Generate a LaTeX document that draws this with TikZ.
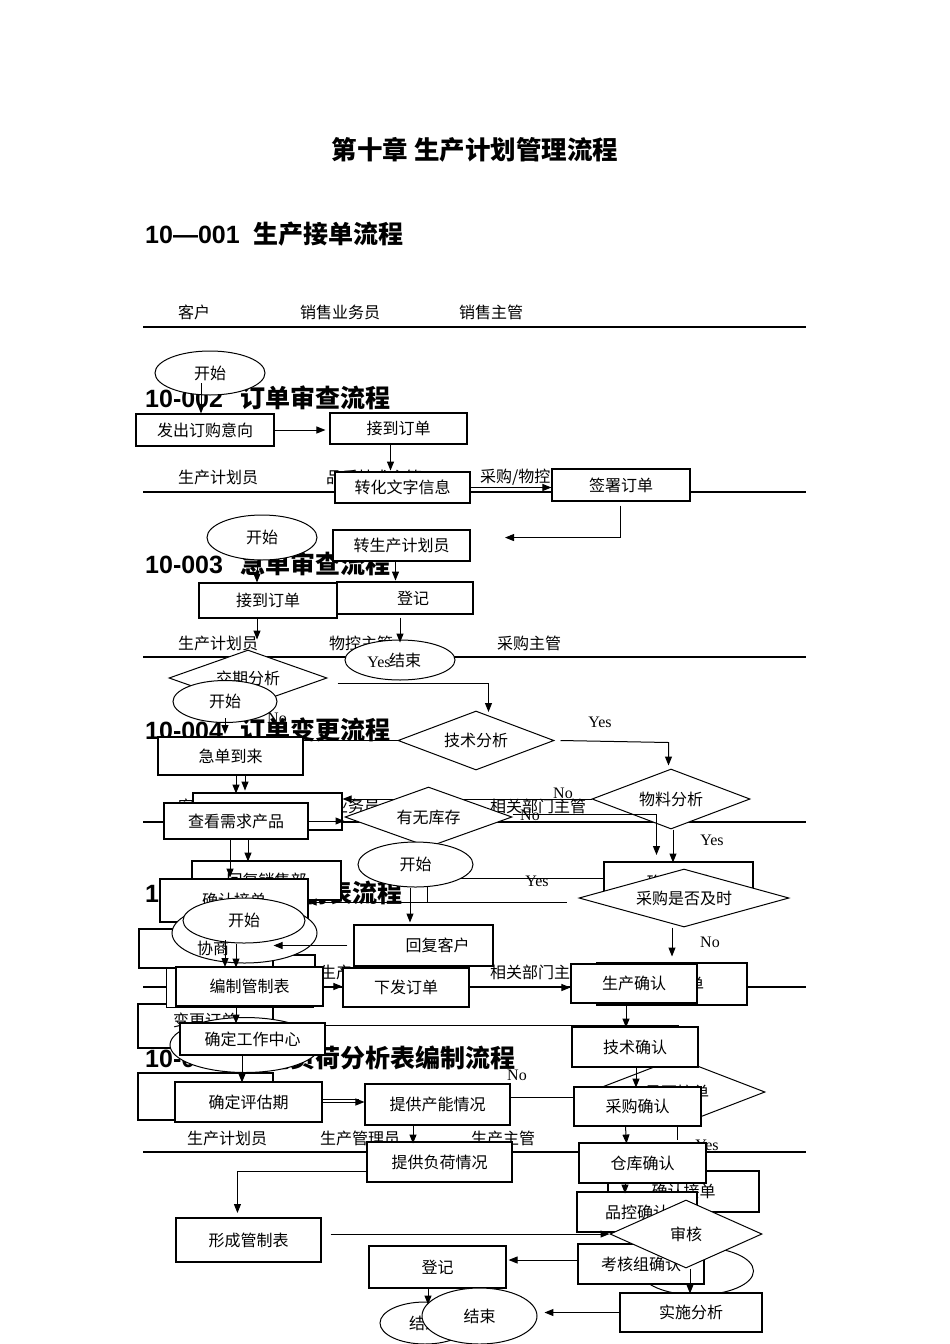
\documentclass[tikz,border=0pt]{standalone}
\usepackage{fontspec}
\setmainfont{Liberation Serif}
\newfontfamily\cjk{Noto Sans CJK SC}
\newfontfamily\arl{Liberation Sans}
\usetikzlibrary{shapes.geometric,arrows.meta}
\newcommand\bodyf{\cjk\fontsize{16}{18}\selectfont}
\newcommand\hdf{\arl\bfseries\fontsize{25}{28}\selectfont}
\begin{document}
\begin{tikzpicture}[x=1pt,y=-1pt,
  bx/.style={draw, fill=white, line width=1.1pt, inner sep=0pt, font=\bodyf},
  el/.style={ellipse, draw, fill=white, line width=1pt, inner sep=0pt, font=\bodyf},
  dm/.style={diamond, draw, fill=white, line width=1pt, inner sep=0pt, aspect=2.6, font=\bodyf},
  sz/.style 2 args={minimum width=#1pt, minimum height=#2pt},
  arr/.style={line width=1pt, -{Triangle[length=9pt,width=7pt]}},
  ln/.style={line width=1pt},
  lane/.style={line width=1.5pt},
  lbl/.style={inner sep=0pt, anchor=west, font=\bodyf},
  yn/.style={inner sep=0pt, font=\fontsize{16}{18}\selectfont},
  hd/.style={inner sep=0pt, anchor=west}]
\path[use as bounding box, fill=white] (0,0) rectangle (950,1344);

% ---------- headings, lane labels, lane lines ----------
\node[inner sep=0pt, font=\cjk\bfseries\fontsize{25.5}{28}\selectfont] (title) at (475,150) {第十章 生产计划管理流程};
\node[hd] (h1) at (145,234) {\hdf 10—001\hspace{14pt}{\cjk\bfseries 生产接单流程}};
\node[hd] (h2) at (145,398) {\hdf 10-002\hspace{17pt}{\cjk\bfseries 订单审查流程}};
\node[hd] (h3) at (145,564) {\hdf 10-003\hspace{17pt}{\cjk\bfseries 急单审查流程}};
\node[hd] (h4) at (145,730) {\hdf 10-004\hspace{17pt}{\cjk\bfseries 订单变更流程}};
\node[hd] (h5) at (145,893) {\hdf 10-005\hspace{4pt}{\cjk\bfseries 生产管制表流程}};
\node[hd] (h6) at (145,1058) {\hdf 10-006\hspace{17pt}{\cjk\bfseries 产能负荷分析表编制流程}};

\node[lbl] (l11) at (178,312) {客户};
\node[lbl] (l12) at (300,312) {销售业务员};
\node[lbl] (l13) at (459,312) {销售主管};
\node[lbl] (l21) at (178,477) {生产计划员};
\node[lbl] (l22) at (326,477) {品质技术主管};
\node[lbl] (l23) at (480,477) {采购/物控主管};
\node[lbl] (l31) at (178,643) {生产计划员};
\node[lbl] (l32) at (329,643) {物控主管};
\node[lbl] (l33) at (497,643) {采购主管};
\node[lbl] (l41) at (178,806) {客户};
\node[lbl] (l42) at (300,806) {销售业务员};
\node[lbl] (l43) at (490,806) {相关部门主管};
\node[lbl] (l51) at (178,972) {销售业务员};
\node[lbl] (l52) at (320,972) {生产计划员};
\node[lbl] (l53) at (490,972) {相关部门主管};
\node[lbl] (l61) at (187,1138) {生产计划员};
\node[lbl] (l62) at (320,1138) {生产管理员};
\node[lbl] (l63) at (471,1138) {生产主管};

\coordinate (s1) at (143,327); \coordinate (t1) at (806,327);
\coordinate (s2) at (143,492); \coordinate (t2) at (806,492);
\coordinate (s3) at (143,657); \coordinate (t3) at (806,657);
\coordinate (s4) at (143,822); \coordinate (t4) at (806,822);
\coordinate (s5) at (143,987); \coordinate (t5) at (806,987);
\coordinate (s6) at (143,1152); \coordinate (t6) at (806,1152);
\foreach \i in {1,...,6} {\draw[lane] (s\i) -- (t\i);}

% ---------- 10-001 ----------
\node[el, sz={110}{44}] (a0) at (210,373) {开始};
\node[bx, sz={138}{32}] (a1) at (205,430) {发出订购意向};
\node[bx, sz={137}{31}] (a2) at (398.5,428.5) {接到订单};
\node[bx, sz={135}{31}] (a3) at (402.5,487.5) {转化文字信息};
\node[bx, sz={138}{32}] (a4) at (621,485) {签署订单};
\node[bx, sz={137}{31}] (a5) at (401.5,545.5) {转生产计划员};
\node[bx, sz={136}{32}] (a6) at (405,598) {\hspace{16pt}登记};
\node[el, sz={110}{40}] (a7) at (400,660) {\hspace{10pt}结束};
\draw[arr] ([xshift=-9pt,yshift=-10pt]a0.center) -- ([xshift=-4pt]a1.north);
\draw[arr, shorten >=4pt] (a1.east) -- (a1.east -| a2.west);
\draw[arr] ([xshift=-8pt]a2.south) -- ++(0,26);
\draw[arr] (a3.east) -- (a3.east -| a4.west);
\draw[arr] ([xshift=-1pt,yshift=-4pt]a4.south) -- ++(0,32) -- ++(-115,0);
\draw[arr] ([xshift=-6pt]a5.south) -- ++(0,19);
\draw[arr] ([xshift=-5pt,yshift=-3pt]a6.south) -- ++(0,25);

% ---------- 10-002 ----------
\node[el, sz={110}{45}] (b0) at (262,537.5) {开始};
\node[bx, sz={138}{35}] (b1) at (268,600.5) {接到订单};
\node[dm, sz={158}{56}] (b2) at (248,678) {交期分析};
\node[dm, sz={156}{59}] (b3) at (476,740.5) {技术分析};
\node[dm, sz={158}{60}] (b4) at (671,799) {物料分析};
\node[bx, sz={149}{37}] (b5) at (267.5,811.5) {};
\node[bx, sz={149}{39}] (b6) at (266.5,880.5) {回复销售部};
\node[bx, sz={149}{40}] (b7) at (678.5,882) {确认订单};
\node[yn] (y1) at (379,662) {Yes};
\node[yn] (n1) at (277,718) {No};
\node[yn] (y2) at (600,722) {Yes};
\node[yn] (n2) at (563,793) {No};
\node[yn] (y3) at (712,840) {Yes};
\node[yn] (y4) at (537,881) {Yes};
\draw[arr] ([xshift=-5pt]b0.south) -- ++(0,22);
\draw[arr] ([xshift=-11pt]b1.south) -- ++(0,21);
\draw[arr] ([xshift=10pt,yshift=-5pt]b2.east) -- ++(151,0) -- ++(0,29);
\draw[arr] ([xshift=6pt]b3.east) -- ++(108,2) -- ++(0,23);
\draw[ln] (b3.west) -- ++(-97,0);
\draw[arr] (b4.west) -- (b4.west -| b5.east);
\draw[arr] ([xshift=2pt]b4.south) -- ++(0,33);
\draw[ln] ([yshift=4pt]b7.west) -- ++(-176,0) -- ++(0,24);

% ---------- 10-003 ----------
\node[el, sz={104}{42}] (c0) at (225,701.5) {开始};
\node[bx, sz={145}{38}] (c1) at (230.5,756) {急单到来};
\node[bx, sz={144}{36}] (c2) at (236,821) {查看需求产品};
\node[dm, sz={167}{60}] (c3) at (428.5,817) {有无库存};
\node[bx, sz={148}{43}] (c4) at (234,900.5) {确认接单};
\node[dm, sz={210}{58}] (c5) at (684,898) {采购是否及时};
\node[yn] (n3) at (530,815) {No};
\node[yn] (n4) at (710,942) {No};
\draw[arr] ([yshift=5pt]c0.south) -- ++(0,16);
\draw[arr] ([xshift=5.5pt]c1.south) -- ++(0,18);
\draw[arr] ([xshift=14.5pt]c1.south) -- ++(0,15);
\draw[arr] (c2.east) -- (c2.east -| c3.west);
\draw[arr] ([yshift=3pt]c3.east) -- ++(144,0) -- ++(0,41);
\draw[arr] ([xshift=-6pt]c2.south) -- ++(0,38);
\draw[arr] ([xshift=12pt]c2.south) -- ++(0,22);
\draw[arr] ([xshift=-12pt]c5.south) -- ++(0,29);
\draw[arr] ([xshift=-12pt,yshift=-4pt]c5.west) -- ++(-259,0);

% ---------- 10-004 ----------
\node[bx, sz={130}{40}] (dx) at (250,975) {};
\node[el, sz={115}{45}] (d0) at (415.5,864.5) {开始};
\node[bx, sz={139}{41}] (d1) at (423.5,945.5) {\hspace{28pt}回复客户};
\node[bx, sz={134}{39}] (d2) at (206,948.5) {};
\node[bx, sz={135}{44}] (d3) at (205.5,1026) {};
\draw[arr] ([xshift=-5.5pt]d0.south) -- ++(0,35);

% ---------- 10-005 ----------
\node[el, sz={145}{60}] (e0b) at (244.5,933) {};
\node[lbl] (d2t) at (197,948.5) {协商};
\node[bx, sz={147}{39}] (e1b) at (240,988) {};
\node[el, sz={122}{45}] (e0) at (244,920.5) {开始};
\draw[arr] ([xshift=-6pt]d1.west) -- (d1.west -| d2.east);
\node[bx, sz={147}{39}] (e1) at (249.5,986.5) {编制管制表};
\node[bx, sz={126}{39}] (e2) at (406,987.5) {下发订单};
\node[bx, sz={150}{42}] (e3b) at (672,984) {确认订单};
\node[bx, sz={126}{39}] (e3) at (634,983.5) {生产确认};
\node[dm, sz={176}{68}] (e5d) at (677,1092) {是否接单};
\node[bx, sz={126}{40}] (e4) at (635,1047) {技术确认};
\node[bx, sz={127}{39}] (e5) at (637.5,1106.5) {采购确认};
\node[yn] (y5) at (707,1145) {Yes};
\node[bx, sz={151}{41}] (e7b) at (683.5,1191.5) {确认接单};
\node[bx, sz={127}{40}] (e6) at (642.5,1163) {仓库确认};
\node[bx, sz={120}{40}] (e7) at (637,1212) {品控确认};
\node[el, sz={113}{48}] (e8e) at (697,1271) {};
\node[bx, sz={126}{40}] (e8) at (641,1264) {考核组确认};
\node[bx, sz={137}{42}] (e10) at (437.5,1267) {登记};
\node[el, sz={90}{42}] (e11) at (425,1323) {结束};
\draw[arr] ([xshift=-8pt]e0.south) -- ++(0,24);
\draw[arr] ([xshift=-19.5pt,yshift=-7pt]e0b.center) -- ++(0,27);
\draw[arr] (e1.east) -- (e1.east -| e2.west);
\draw[arr] (e2.east) -- (e2.east -| e3.west);
\draw[arr] ([xshift=-8pt]e3.south) -- ++(0,24);
\draw[arr] ([xshift=1pt]e4.south) -- ++(0,20);
\draw[arr] ([xshift=-12pt]e5.south) -- ++(1,17);
\draw[ln] (e5d.south) -- ++(0,13);
\draw[arr] ([xshift=-17.5pt]e6.south) -- ++(0,10);
\draw[arr, shorten >=2pt] ([yshift=4pt]e8.west) -- ([yshift=4pt]e8.west -| e10.east);
\draw[arr] ([xshift=-9.5pt]e10.south) -- ++(0,16);

% ---------- 10-006 ----------
\node[lbl] (d3t) at (173,1020) {变更订单};
\node[el, sz={150}{55}] (f0) at (245,1045) {开始};
\node[bx, sz={145}{32}] (f1) at (252.5,1039) {确定工作中心};
\node[bx, sz={135}{47}] (f2b) at (205.5,1096.5) {};
\node[bx, sz={147}{40}] (f2) at (248.5,1102) {确定评估期};
\node[bx, sz={145}{41}] (f3) at (437.5,1104.5) {提供产能情况};
\node[bx, sz={145}{40}] (f4) at (439.5,1162) {提供负荷情况};
\node[bx, sz={145}{44}] (f5) at (248.5,1240) {形成管制表};
\node[dm, sz={152}{68}] (f6) at (686,1234) {审核};
\node[bx, sz={142}{39}] (f7) at (691,1312.5) {实施分析};
\node[el, sz={115}{56}] (f8) at (479.5,1316) {结束};
\node[yn] (n5) at (517,1075) {No};
\draw[arr] ([xshift=-13.5pt]e1.south) -- ++(0,17);
\draw[ln] ([yshift=14pt]f1.east) -- ++(353,0);
\draw[arr] ([xshift=-10.5pt]f1.south) -- ++(0,27);
\draw[arr] (f2.east) -- (f2.east -| f3.west);
\draw[ln] ([yshift=3pt]f2.east) -- ++(36,0);
\draw[ln] ([yshift=7pt]f3.east) -- ++(64,0);
\draw[arr] ([xshift=-24.5pt]f3.south) -- ++(0,18);
\draw[arr] ([yshift=-9pt]f4.west) -- ++(-129,0) -- ++(0,42);
\draw[arr] ([xshift=9pt,yshift=6pt]f5.east) -- (f6.west);
\draw[arr] ([xshift=4pt]f6.south) -- ++(0,25);
\draw[arr] (f7.west) -- ++(-75,0);
\end{tikzpicture}
\end{document}
